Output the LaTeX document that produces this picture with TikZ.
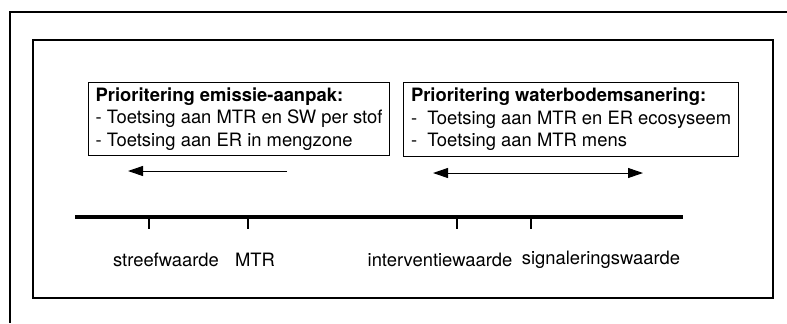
\documentclass[tikz,border=0pt]{standalone}
\usepackage{fontspec}
\setmainfont{TeX Gyre Heros}
\usetikzlibrary{arrows.meta}
\tikzset{
  infobox/.style={draw, line width=1.1bp, anchor=north west, align=left, inner xsep=4bp, inner ysep=3bp,
    font=\fontsize{18.4bp}{22.5bp}\selectfont},
  axislabel/.style={font=\fontsize{18.4bp}{22bp}\selectfont, inner sep=0pt},
  tickline/.style={line width=2bp},
  arrowline/.style={line width=1bp, >={Triangle[length=15bp,width=10bp]}}
}
\begin{document}
\begin{tikzpicture}[x=1bp,y=-1bp]
\useasboundingbox (0,0) rectangle (787,323);
% outer (partial) frame
\coordinate (oTR) at (787,12);
\coordinate (oTL) at (10,12);
\coordinate (oBL) at (10,323);
\draw[line width=1.3bp] (oTR) -- (oTL) -- (oBL);
% inner frame
\draw[line width=1.8bp] (33,40) rectangle (773,298);
% boxes
\node[infobox, minimum width=301bp, minimum height=73bp] (emis) at (88,82)
  {\textbf{Prioritering emissie-aanpak:}\\
   - Toetsing aan MTR en SW per stof\\
   - Toetsing aan ER in mengzone};
\node[infobox, minimum width=335bp, minimum height=74bp] (wbs) at (403,82)
  {\textbf{Prioritering waterbodemsanering:}\\
   -\ \ Toetsing aan MTR en ER ecosyseem\\
   -\ \ Toetsing aan MTR mens};
% arrows
\coordinate (a1s) at (287,171);
\coordinate (a1e) at (128,171);
\draw[arrowline, ->] (a1s) -- (a1e);
\coordinate (a2s) at (433,173);
\coordinate (a2e) at (643,173);
\draw[arrowline, <->] (a2s) -- (a2e);
% axis
\coordinate (axL) at (75,217);
\coordinate (axR) at (683,217);
\draw[line width=4.5bp] (axL) -- (axR);
\foreach \n/\x in {t1/149, t2/248, t3/457, t4/531}{
  \coordinate (\n a) at (\x,217);
  \coordinate (\n b) at (\x,229);
  \draw[tickline] (\n a) -- (\n b);
}
% labels
\node[axislabel] (lsw) at (166,260) {streefwaarde};
\node[axislabel] (lmtr) at (255,260) {MTR};
\node[axislabel] (liw) at (440,260) {interventiewaarde};
\node[axislabel] (lsig) at (601,260) {signaleringswaarde};
\end{tikzpicture}
\end{document}
